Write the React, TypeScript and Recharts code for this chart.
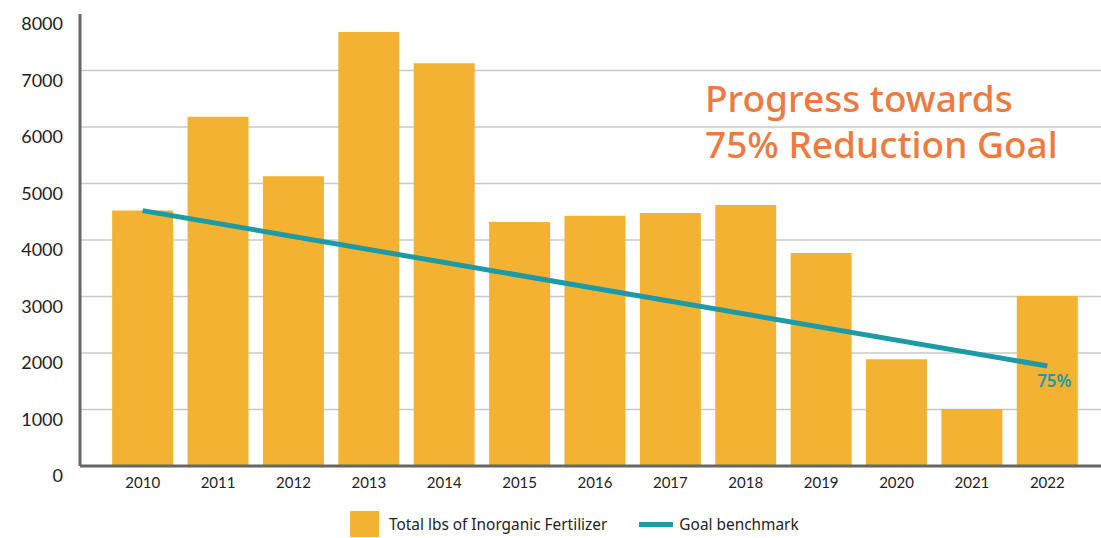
import React from 'react';
import {
  Bar,
  CartesianGrid,
  ComposedChart,
  Customized,
  LabelList,
  Legend,
  Line,
  XAxis,
  YAxis
} from 'recharts';

const years = ['2010', '2011', '2012', '2013', '2014', '2015', '2016', '2017', '2018', '2019', '2020', '2021', '2022'];
const fertilizerLbs = [4520, 6180, 5130, 7680, 7130, 4320, 4430, 4480, 4620, 3770, 1890, 1010, 3010];
// goal benchmark only known at both ends, drawn as a straight line between them
const goalBenchmark: Array<number | null> = [4520, null, null, null, null, null, null, null, null, null, null, null, 1770];
const yTicks = [0, 1000, 2000, 3000, 4000, 5000, 6000, 7000, 8000];
const gridValues = [1000, 2000, 3000, 4000, 5000, 6000, 7000];

const BAR_COLOR = '#F3B232';
const LINE_COLOR = '#1C9AA5';
const TITLE_COLOR = '#F07A3E';

const data = years.map((year, i) => ({
  year,
  fertilizer: fertilizerLbs[i],
  goal: goalBenchmark[i]
}));

const YTick = (props: any) => {
  const { x, y, payload } = props;
  return (
    <text x={x} y={y + 10} dy="0.35em" textAnchor="end" fontSize={18} fill="#222" fontFamily="Lato, sans-serif">
      {payload.value}
    </text>
  );
};

const XTick = (props: any) => {
  const { x, y, payload } = props;
  return (
    <text x={x} y={y + 9} dy="0.35em" textAnchor="middle" fontSize={15} fill="#222" fontFamily="Lato, sans-serif">
      {payload.value}
    </text>
  );
};

const GoalLabel = (props: any) => {
  const { x, y, index } = props;
  if (index !== years.length - 1) return null;
  return (
    <text x={x + 7} y={y + 15} dy="0.35em" textAnchor="middle" fontSize={17} fontWeight={600} fill={LINE_COLOR} fontFamily="'Noto Sans', sans-serif">
      75%
    </text>
  );
};

const Title = () => (
  <g fontFamily="'Noto Sans', sans-serif" fontSize={37} fontWeight={500} fill={TITLE_COLOR}>
    <text x={705} y={112}>Progress towards</text>
    <text x={705} y={158}>75% Reduction Goal</text>
  </g>
);

const LegendBox = () => (
  <div
    style={{
      height: 36,
      display: 'flex',
      alignItems: 'center',
      fontFamily: "'Noto Sans', sans-serif",
      fontSize: 15.4,
      color: '#222',
      paddingLeft: 350,
      paddingTop: 8,
      boxSizing: 'border-box'
    }}
  >
    <span style={{ display: 'inline-block', width: 29, height: 26, background: BAR_COLOR, marginRight: 10 }} />
    <span>Total lbs of Inorganic Fertilizer</span>
    <span style={{ display: 'inline-block', width: 34, height: 5, background: LINE_COLOR, marginLeft: 32, marginRight: 6 }} />
    <span>Goal benchmark</span>
  </div>
);

export default function App() {
  return (
    <div style={{ position: 'absolute', left: 0, top: 0, background: '#fff' }}>
      <ComposedChart
        width={1101}
        height={538}
        data={data}
        margin={{ top: 14, right: 0, left: 0, bottom: 0 }}
        barCategoryGap="9.5%"
      >
        <CartesianGrid vertical={false} horizontalValues={gridValues} stroke="#C8C8C8" strokeWidth={1.5} />
        <XAxis
          dataKey="year"
          height={36}
          padding={{ left: 25, right: 16 }}
          tickLine={false}
          axisLine={{ stroke: '#666', strokeWidth: 3 }}
          tick={<XTick />}
          interval={0}
        />
        <YAxis
          width={80}
          domain={[0, 8000]}
          ticks={yTicks}
          tickLine={false}
          axisLine={{ stroke: '#666', strokeWidth: 3 }}
          tick={<YTick />}
          tickMargin={11}
        />
        <Bar dataKey="fertilizer" name="Total lbs of Inorganic Fertilizer" fill={BAR_COLOR} isAnimationActive={false} />
        <Line
          dataKey="goal"
          name="Goal benchmark"
          stroke={LINE_COLOR}
          strokeWidth={5}
          dot={false}
          activeDot={false}
          connectNulls
          isAnimationActive={false}
        >
          <LabelList dataKey="goal" content={<GoalLabel />} />
        </Line>
        <Customized component={Title} />
        <Legend verticalAlign="bottom" content={<LegendBox />} />
      </ComposedChart>
    </div>
  );
}
